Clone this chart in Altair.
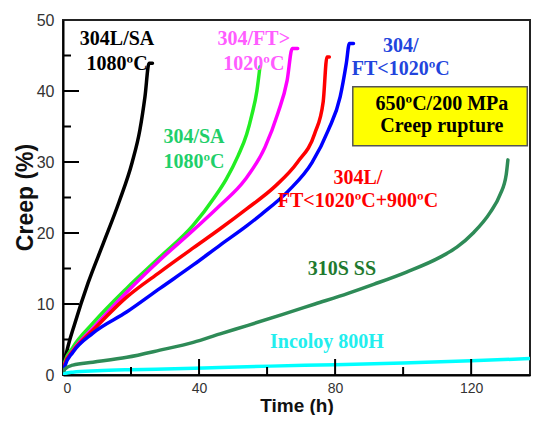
import altair as alt
import pandas as pd

# ---- data ----
series_names = ["304L/SA 1080", "304/SA 1080", "304/FT>1020", "304L/FT<1020+900",
                "304/FT<1020", "310S SS", "Incoloy 800H"]
series_colors = ["#000000", "#22EE22", "#FF00FF", "#FF0000", "#0000FF", "#2E8B57", "#00FFFF"]

black_t = [0, 0.3, 1.2, 3.5, 7.4, 11.9, 16.5, 20.3, 22.6, 24.1, 25.3, 26.3]
black_c = [0, 1.5, 3.5, 7.3, 13.0, 18.6, 24.4, 29.9, 34.5, 39.2, 43.9, 43.9]

green_t = [0, 0.5, 2.9, 8.8, 18.7, 28.5, 38.3, 44.5, 48.0, 51.5, 54.0, 55.5, 57.0, 57.9]
green_c = [0, 1.8, 3.9, 7.3, 12.2, 16.6, 21.1, 25.0, 27.6, 30.9, 33.9, 36.6, 40.0, 43.4]

mag_t = [0, 0.5, 3.0, 8.8, 18.8, 28.5, 38.3, 46.2, 53.5, 59.4, 63.2, 65.9, 67.4, 69.0]
mag_c = [0, 1.5, 3.5, 6.6, 11.7, 16.2, 20.4, 23.9, 27.5, 32.1, 36.9, 41.5, 46.0, 46.0]

red_t = [0, 0.5, 3.0, 8.8, 18.8, 28.5, 38.3, 46.2, 54.0, 62.4, 69.0, 74.0, 76.5, 77.6, 78.3]
red_c = [0, 1.5, 3.4, 6.3, 11.0, 14.5, 17.9, 20.6, 23.4, 26.6, 30.0, 34.0, 38.5, 44.8, 44.8]

blue_t = [0, 0.5, 2.9, 8.8, 18.8, 28.5, 38.3, 46.2, 54.0, 58.5, 66.2, 73.2, 78.0, 81.5, 83.3, 84.2, 85.4]
blue_c = [0, 1.2, 3.2, 5.9, 8.9, 12.2, 15.5, 18.3, 21.0, 22.7, 25.9, 29.9, 34.5, 39.2, 43.9, 46.7, 46.7]

ss310_t = [0, 0.5, 2.9, 8.8, 18.8, 28.5, 38.3, 46.2, 54.4, 64.4, 74.1, 83.8, 91.5, 101.0,
           110.9, 115.8, 120.6, 125.6, 128.5, 130.3, 130.8]
ss310_c = [0, 0.8, 1.4, 1.8, 2.5, 3.5, 4.6, 5.8, 7.0, 8.5, 10.0, 11.5, 12.8, 14.5,
           16.6, 18.0, 20.0, 22.9, 25.4, 28.2, 30.3]

inc_t = [0, 0.5, 2.9, 10, 20, 30, 46, 61, 80, 100, 120, 139]
inc_c = [0, 0.2, 0.4, 0.6, 0.75, 0.85, 1.05, 1.25, 1.45, 1.7, 2.0, 2.35]

all_t = [black_t, green_t, mag_t, red_t, blue_t, ss310_t, inc_t]
all_c = [black_c, green_c, mag_c, red_c, blue_c, ss310_c, inc_c]

label_text = ["304L/SA", "1080ºC", "304/SA", "1080ºC", "304/FT>", "1020ºC",
              "304/", "FT<1020ºC", "304L/", "FT<1020ºC+900ºC", "310S SS", "Incoloy 800H",
              "650ºC/200 MPa", "Creep rupture"]
label_t = [15.9, 15.9, 38.5, 38.5, 56.1, 56.1, 99.3, 99.3, 86.7, 86.7, 82.0, 77.6, 111.4, 111.4]
label_c = [46.5, 43.0, 32.7, 29.2, 46.5, 43.0, 45.5, 42.3, 26.9, 23.7, 14.1, 3.8, 37.3, 34.2]
label_color = ["#000000", "#000000", "#1FCF6A", "#1FCF6A", "#FF5CFF", "#FF5CFF",
               "#2244DD", "#2244DD", "#FF0000", "#FF0000", "#1F7A2F", "#22EEEE",
               "#000000", "#000000"]

box_t = [85.2]
box_t2 = [136.5]
box_c = [40.6]
box_c2 = [32.3]

y_major = [10, 20, 30, 40]
y_minor = [5, 15, 25, 35, 45]
x_major = [40, 80, 120]
x_minor = [20, 60, 100]

# ---- tables ----
rows = []
for name, ts, cs in zip(series_names, all_t, all_c):
    for i, (t, c) in enumerate(zip(ts, cs)):
        rows.append({"series": name, "t": t, "c": c, "i": i})
lines_df = pd.DataFrame(rows)
labels_df = pd.DataFrame({"text": label_text, "t": label_t, "c": label_c, "color": label_color})
box_df = pd.DataFrame({"t": box_t, "t2": box_t2, "c": box_c, "c2": box_c2})

W, H = 467, 355
xs = alt.Scale(domain=[0, 137.3], nice=False, zero=False)
ys = alt.Scale(domain=[0, 50], nice=False, zero=False)

x_axis = alt.Axis(values=[0, 40, 80, 120], title="Time (h)", ticks=False, tickSize=0,
                  grid=False, labelPadding=6, labelFontSize=14, labelColor="#333333",
                  labelFont="Liberation Sans", titleFont="Liberation Sans",
                  titleFontSize=19, titleFontWeight="bold", titleColor="#111111",
                  titleY=36, titleBaseline="alphabetic",
                  domainColor="#000000", domainWidth=2)
y_axis = alt.Axis(values=[0, 10, 20, 30, 40, 50], title="Creep (%)", ticks=False, tickSize=0,
                  grid=False, labelPadding=9, labelFontSize=16, labelColor="#333333",
                  labelFont="Liberation Sans", titleFont="Liberation Sans",
                  titleFontSize=23, titleFontWeight="bold", titleColor="#111111",
                  titleX=-31, titleY=177, titleBaseline="alphabetic", titleAngle=270,
                  domainColor="#000000", domainWidth=2)


def X(field="t"):
    return alt.X(f"{field}:Q", scale=xs, axis=x_axis, title="Time (h)")


def Y(field="c"):
    return alt.Y(f"{field}:Q", scale=ys, axis=y_axis, title="Creep (%)")


lines = alt.Chart(lines_df).mark_line(strokeWidth=3.5, strokeCap="round", strokeJoin="round",
                                      interpolate="monotone", clip=True).encode(
    x=X(), y=Y(),
    color=alt.Color("series:N", scale=alt.Scale(domain=series_names, range=series_colors), legend=None),
    order="i:Q",
    detail="series:N",
)

box = alt.Chart(box_df).mark_rect(fill="#FFFF00", stroke="#555555", strokeWidth=1.5).encode(
    x=X(), x2="t2:Q", y=Y(), y2="c2:Q",
)

labels = alt.Chart(labels_df).mark_text(font="Liberation Serif", fontWeight="bold", fontSize=20,
                                        align="center", baseline="alphabetic").encode(
    x=X(), y=Y(),
    text="text:N",
    color=alt.Color("color:N", scale=None),
)

ymaj = alt.Chart(pd.DataFrame({"c": y_major})).mark_rule(color="#000000", strokeWidth=2).encode(
    y=Y(), x=alt.value(0), x2=alt.value(16))
ymin = alt.Chart(pd.DataFrame({"c": y_minor})).mark_rule(color="#000000", strokeWidth=2).encode(
    y=Y(), x=alt.value(0), x2=alt.value(8))
xmaj = alt.Chart(pd.DataFrame({"t": x_major})).mark_rule(color="#000000", strokeWidth=2).encode(
    x=X(), y=alt.value(H), y2=alt.value(H - 16))
xmin = alt.Chart(pd.DataFrame({"t": x_minor})).mark_rule(color="#000000", strokeWidth=2).encode(
    x=X(), y=alt.value(H), y2=alt.value(H - 8))

chart = alt.layer(box, lines, labels, ymaj, ymin, xmaj, xmin).properties(
    width=W, height=H,
    autosize=alt.AutoSizeParams(type="none"),
    padding={"left": 55, "top": 12, "right": 1, "bottom": 40},
).configure_view(stroke="#222222", strokeWidth=2)

chart.save("out.html", embed_options={"renderer": "svg", "actions": False})
